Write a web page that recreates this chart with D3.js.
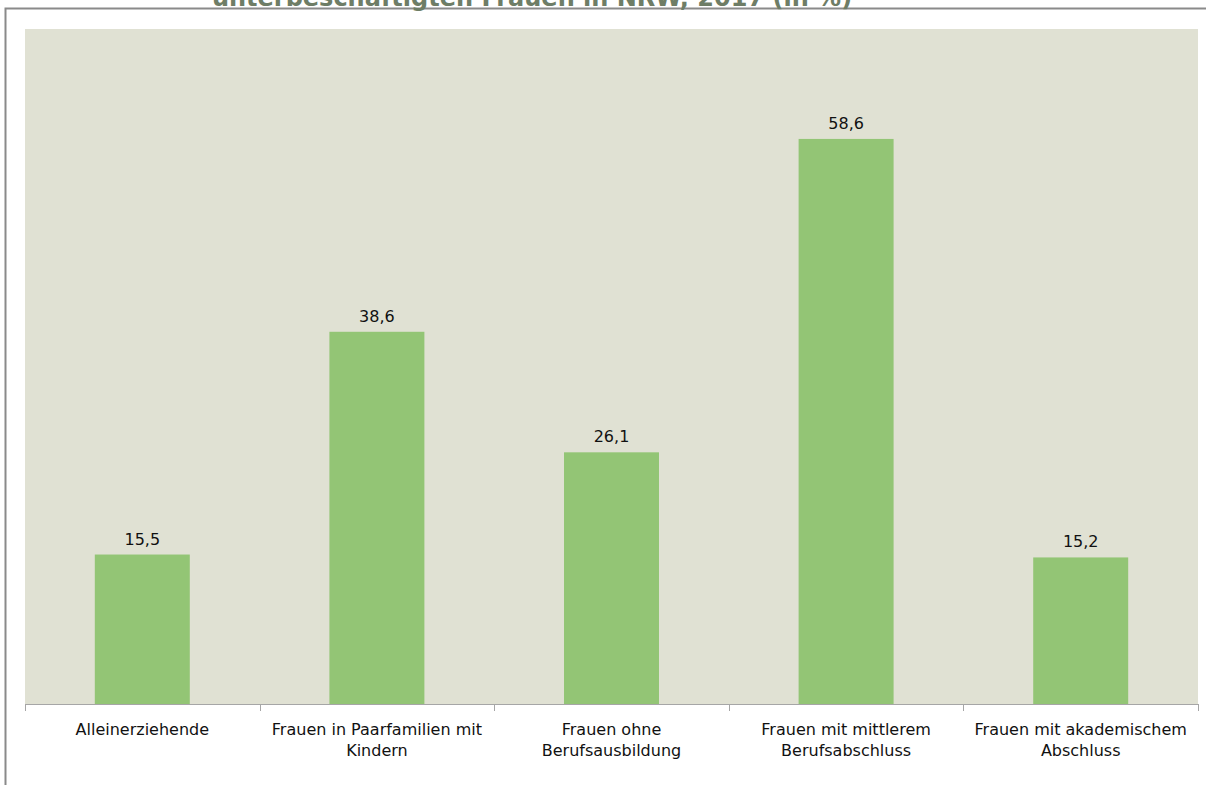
<!DOCTYPE html>
<html><head><meta charset="utf-8">
<script src="https://cdn.jsdelivr.net/npm/d3@7"></script>
<style>body{margin:0;background:#fff;} svg{display:block;}</style>
</head><body>
<svg id="c" width="1206" height="785"></svg>
<script>
const titleText = "unterbeschäftigten Frauen in NRW, 2017 (in %)";
const categories = [
  ["Alleinerziehende"],
  ["Frauen in Paarfamilien mit", "Kindern"],
  ["Frauen ohne", "Berufsausbildung"],
  ["Frauen mit mittlerem", "Berufsabschluss"],
  ["Frauen mit akademischem", "Abschluss"]
];
const values = [15.5, 38.6, 26.1, 58.6, 15.2];
const yDomain = [0, 70];

(function(){
const svg = d3.select("#c");
const font = "'DejaVu Sans', sans-serif";

// outer frame
svg.append("path").attr("d", "M5.5,785 V8.5 H1210").attr("fill","none").attr("stroke","#8a8a8a").attr("stroke-width",2);

// title (cut at top)
svg.append("text").attr("x", 532).attr("y", 6).attr("text-anchor","middle")
  .attr("font-family","'DejaVu Sans', sans-serif").attr("font-weight","bold").attr("font-size",24)
  .attr("fill","#6e7d66").text(titleText);

const pL = 25, pR = 1198, pT = 29, pB = 704;
svg.append("rect").attr("x",pL).attr("y",pT).attr("width",pR-pL).attr("height",pB-pT).attr("fill","#e0e1d3");

const x = d3.scaleBand().domain(d3.range(values.length)).range([pL,pR]).paddingInner(0).paddingOuter(0);
const y = d3.scaleLinear().domain(yDomain).range([pB, pT]);
const bw = x.bandwidth()/2.47;

svg.selectAll("rect.bar").data(values).join("rect").attr("class","bar")
  .attr("x",(d,i)=>x(i)+x.bandwidth()/2-bw/2).attr("width",bw)
  .attr("y",d=>y(d)).attr("height",d=>y(0)-y(d)).attr("fill","#93c575");

svg.selectAll("text.val").data(values).join("text").attr("class","val")
  .attr("x",(d,i)=>x(i)+x.bandwidth()/2).attr("y",d=>y(d)-10)
  .attr("text-anchor","middle").attr("font-family",font).attr("font-size",16).attr("fill","#111")
  .text(d=>d3.format(".1f")(d).replace(".",","));

// axis
const ax = svg.append("g").attr("transform",`translate(0,${pB})`);
ax.append("line").attr("x1",pL).attr("x2",pR).attr("y1",0.5).attr("y2",0.5).attr("stroke","#a6a6a6");
const ticks = d3.range(values.length+1).map(i=> i<values.length ? x(i) : pR);
ax.selectAll("line.t").data(ticks).join("line").attr("class","t")
  .attr("x1",d=>Math.round(d)+0.5).attr("x2",d=>Math.round(d)+0.5).attr("y1",0).attr("y2",7).attr("stroke","#a6a6a6");

categories.forEach((lines,i)=>{
  const t = svg.append("text").attr("text-anchor","middle").attr("font-family",font).attr("font-size",16).attr("fill","#111");
  lines.forEach((l,j)=>t.append("tspan").attr("x",x(i)+x.bandwidth()/2).attr("y",735+j*21).text(l));
});
})();
</script>
</body></html>
